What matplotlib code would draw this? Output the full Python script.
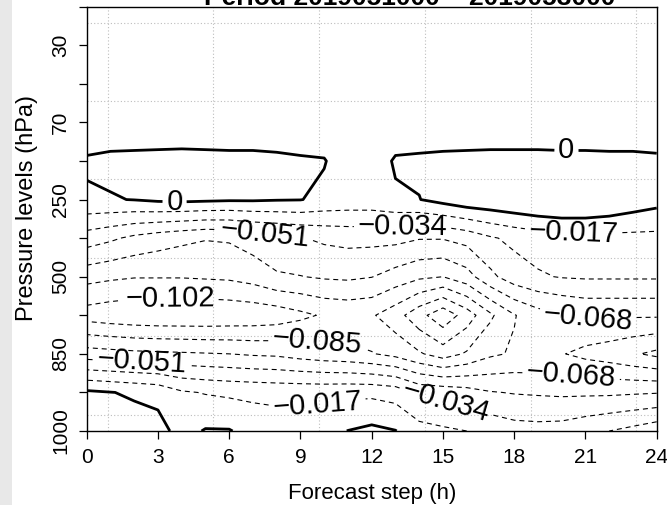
import numpy as np
import matplotlib
matplotlib.use("Agg")
import matplotlib.pyplot as plt
from matplotlib.patches import Rectangle

plt.rcParams["font.family"] = ["Liberation Sans", "DejaVu Sans"]

# forecast steps (h) and pressure-level tick labels (every other level labelled)
steps = list(range(25))
pressure_labels = ["1000", "", "850", "", "500", "", "250", "", "70", "", "30", ""]

# field values per level index (bottom = 1000 hPa), one value per forecast hour
z00 = [0.010, 0.008, 0.007, 0.006, -0.006, 0.0012, 0.001, -0.006, -0.008, -0.008, -0.006, 0.0003, 0.004,
       0.0005, -0.010, -0.014, -0.017, -0.022, -0.027, -0.028, -0.027, -0.022, -0.017, -0.012, -0.006]
z01 = [0.003, 0.0005, -0.002, -0.005, -0.015, -0.018, -0.020, -0.021, -0.022, -0.022, -0.022, -0.021, -0.021,
       -0.024, -0.038, -0.040, -0.044, -0.050, -0.052, -0.053, -0.054, -0.054, -0.054, -0.053, -0.052]
z02 = [-0.060, -0.062, -0.064, -0.065, -0.066, -0.067, -0.068, -0.070, -0.071, -0.075, -0.078, -0.080, -0.084,
       -0.090, -0.100, -0.110, -0.100, -0.088, -0.083, -0.083, -0.084, -0.090, -0.094, -0.100, -0.106]
z03 = [-0.110, -0.113, -0.115, -0.116, -0.116, -0.116, -0.115, -0.114, -0.112, -0.106, -0.100, -0.098, -0.100,
       -0.112, -0.130, -0.148, -0.128, -0.105, -0.086, -0.075, -0.070, -0.066, -0.066, -0.066, -0.066]
z04 = [-0.079, -0.082, -0.084, -0.084, -0.084, -0.083, -0.082, -0.078, -0.070, -0.0685, -0.066, -0.065, -0.0675,
       -0.075, -0.082, -0.085, -0.075, -0.055, -0.042, -0.036, -0.033, -0.032, -0.032, -0.032, -0.032]
z05 = [-0.042, -0.048, -0.055, -0.060, -0.064, -0.067, -0.066, -0.060, -0.056, -0.052, -0.048, -0.046, -0.046,
       -0.046, -0.050, -0.050, -0.045, -0.036, -0.030, -0.026, -0.024, -0.023, -0.022, -0.022, -0.022]
z06 = [-0.002, -0.001, 0.0005, 0.003, 0.004, 0.003, 0.002, 0.002, 0.001, 0.0005, -0.004, -0.006, -0.006,
       -0.0024, -0.0004, 0.0056, 0.0113, 0.0133, 0.0162, 0.0196, 0.0222, 0.0212, 0.0166, 0.0108, 0.0062]
z07 = [0.002, 0.004, 0.0045, 0.005, 0.0055, 0.005, 0.0045, 0.0045, 0.0035, 0.002, 0.001, -0.010, -0.010,
       0.002, 0.003, 0.004, 0.0045, 0.005, 0.005, 0.005, 0.0045, 0.0045, 0.004, 0.004, 0.003]
z08 = [-0.012] * 25
z09 = [-0.009] * 25
z10 = [-0.007] * 25
z11 = [-0.006] * 25

neg_levels = [-0.136, -0.119, -0.102, -0.085, -0.068, -0.051, -0.034, -0.017]
zero_level = [0.0]

# where the contour labels sit (x in h, y in level index)
neg_label_pos = [(7.5, 5.1), (13.3, 5.3), (20.5, 5.15), (3.5, 3.35), (9.7, 2.3),
                 (21.1, 2.9), (2.3, 1.8), (20.4, 1.45), (9.7, 0.75), (15.1, 0.75)]
zero_label_pos = [(3.7, 5.95), (20.2, 7.27)]

# dotted reference grid
grid_x = [0.88, 5.32, 9.78, 14.25, 18.71, 23.13]
grid_y = [0.41, 2.46, 4.49, 6.53, 8.56, 10.58]

W, H = 667, 505
fig = plt.figure(figsize=(W / 100, H / 100), dpi=100)
fig.patches.append(Rectangle((0, 0), 12 / W, 1, transform=fig.transFigure,
                             facecolor="#e8e8e8", edgecolor="none", zorder=0))
ax = fig.add_axes([86.7 / W, (H - 431) / H, 570 / W, (431 - 6.7) / H])

for gx in grid_x:
    ax.axvline(gx, color="#bdbdbd", lw=0.8, ls=(0, (1, 2)), zorder=0)
for gy in grid_y:
    ax.axhline(gy, color="#bdbdbd", lw=0.8, ls=(0, (1, 2)), zorder=0)

Z = np.array([z00, z01, z02, z03, z04, z05, z06, z07, z08, z09, z10, z11])
X, Y = np.meshgrid(steps, np.arange(Z.shape[0]))

cs = ax.contour(X, Y, Z, levels=neg_levels, colors="black", linewidths=0.8,
                linestyles=[(0, (4.5, 3.5))])
cz = ax.contour(X, Y, Z, levels=zero_level, colors="black", linewidths=2.0,
                linestyles="solid")


def fmt(v):
    if abs(v) < 1e-12:
        return "0"
    return f"{v:.3f}".replace("-", "\u2212")


ax.clabel(cs, manual=neg_label_pos, inline=True, fmt=fmt, fontsize=21, inline_spacing=4)
ax.clabel(cz, manual=zero_label_pos, inline=True, fmt=fmt, fontsize=21, inline_spacing=4)

ax.set_xlim(0, 24)
ax.set_ylim(0, 11)
ax.set_xticks(range(0, 25, 3))
ax.set_xticklabels([str(v) for v in range(0, 25, 3)], fontsize=15)
ax.set_yticks(range(len(pressure_labels)))
ax.set_yticklabels(pressure_labels, fontsize=15, rotation=90, va="center")
ax.tick_params(direction="out", length=6, width=0.9, color="black", pad=6)
for s in ax.spines.values():
    s.set_linewidth(1.0)

ax.set_xlabel("Forecast step (h)", fontsize=16, labelpad=12)
ax.set_ylabel("Pressure levels (hPa)", fontsize=17)
ax.yaxis.set_label_coords(-49 / 570, (431 - 208) / (431 - 6.7))

fig.text(410 / W, 1 - 5 / H, "Period 2019051000 \u2013 2019053000", ha="center",
         va="baseline", fontsize=19, fontweight="bold")

fig.savefig("out.png", dpi=100)
